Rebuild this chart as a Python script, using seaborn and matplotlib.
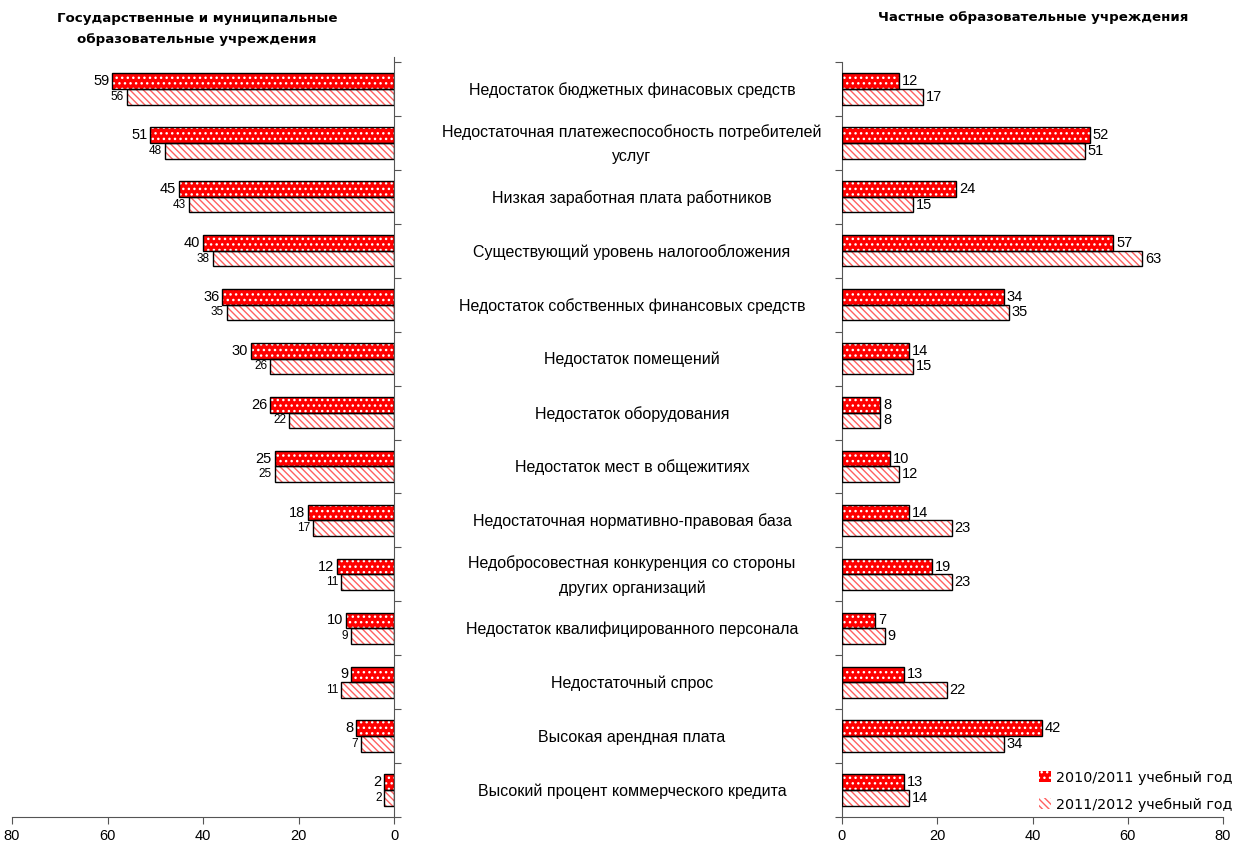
import matplotlib
matplotlib.use('Agg')
import matplotlib.pyplot as plt
import matplotlib.transforms as mtransforms
from matplotlib.patches import Rectangle
import seaborn as sns
import pandas as pd
import numpy as np

categories = [
    'Недостаток бюджетных финасовых средств',
    'Недостаточная платежеспособность потребителей\nуслуг',
    'Низкая заработная плата работников',
    'Существующий уровень налогообложения',
    'Недостаток собственных финансовых средств',
    'Недостаток помещений',
    'Недостаток оборудования',
    'Недостаток мест в общежитиях',
    'Недостаточная нормативно-правовая база',
    'Недобросовестная конкуренция со стороны\nдругих организаций',
    'Недостаток квалифицированного персонала',
    'Недостаточный спрос',
    'Высокая арендная плата',
    'Высокий процент коммерческого кредита',
]
years = ['2010/2011 учебный год', '2011/2012 учебный год']
state_2010 = [59, 51, 45, 40, 36, 30, 26, 25, 18, 12, 10, 9, 8, 2]
state_2011 = [56, 48, 43, 38, 35, 26, 22, 25, 17, 11, 9, 11, 7, 2]
private_2010 = [12, 52, 24, 57, 34, 14, 8, 10, 14, 19, 7, 13, 42, 13]
private_2011 = [17, 51, 15, 63, 35, 15, 8, 12, 23, 23, 9, 22, 34, 14]

def make_df(v1, v2):
    return pd.DataFrame({
        'cat': categories * 2,
        'year': [years[0]] * len(categories) + [years[1]] * len(categories),
        'value': v1 + v2,
    })

df_state = make_df(state_2010, state_2011)
df_private = make_df(private_2010, private_2011)

sns.set_style('white')
plt.rcParams['font.family'] = ['Liberation Sans', 'DejaVu Sans']
plt.rcParams['hatch.linewidth'] = 1.0
plt.rcParams['text.color'] = 'black'
plt.rcParams['xtick.color'] = 'black'
plt.rcParams['ytick.color'] = 'black'

fig = plt.figure(figsize=(12.47, 8.52), dpi=100)
ax_l = fig.add_axes([12 / 1247, 1 - 817 / 852, 382 / 1247, 755 / 852])
ax_r = fig.add_axes([842 / 1247, 1 - 817 / 852, 381 / 1247, 755 / 852])

styles = [('red', 'white', '...'), ('white', '#ff6060', '\\\\\\\\\\')]

def draw(ax, df):
    sns.barplot(data=df, y='cat', x='value', hue='year', orient='h', ax=ax,
                width=0.58, legend=False, dodge=True)
    for container, (face, hatchc, hatch) in zip(ax.containers, styles):
        for p in container:
            p.set_facecolor(face)
            p.set_edgecolor(hatchc)
            p.set_hatch(hatch)
            p.set_linewidth(0)
            ax.add_patch(Rectangle(p.get_xy(), p.get_width(), p.get_height(),
                                   fill=False, edgecolor='black', linewidth=1, zorder=3))
    ax.set_xlim(0, 80)
    ax.set_ylim(13.5, -0.5)
    ax.set_xticks([0, 20, 40, 60, 80])
    ax.set_yticks(np.arange(-0.5, 14, 1))
    ax.set_yticklabels([])
    ax.set_xlabel('')
    ax.set_ylabel('')
    for s in ['top', 'left', 'right', 'bottom']:
        ax.spines[s].set_visible(False)
    ax.spines['bottom'].set_visible(True)
    ax.spines['bottom'].set_color('#555555')
    ax.tick_params(axis='x', bottom=True, length=5, color='#555555', labelsize=10.5, pad=4)
    ax.tick_params(axis='y', length=5, color='#555555')

draw(ax_l, df_state)
draw(ax_r, df_private)

# left: reversed axis, spine on right
ax_l.invert_xaxis()
ax_l.spines['right'].set_visible(True)
ax_l.spines['right'].set_color('#555555')
ax_l.spines['right'].set_bounds(13.5, -0.6)
ax_l.yaxis.tick_right()
ax_l.tick_params(axis='y', right=True, left=False, length=5)

ax_r.spines['left'].set_visible(True)
ax_r.spines['left'].set_color('#555555')
ax_r.tick_params(axis='y', left=True, length=5)

# value labels
for c, size in zip(ax_l.containers, [10.5, 8.5]):
    ax_l.bar_label(c, padding=2, fontsize=size, color='black')
for c in ax_r.containers:
    ax_r.bar_label(c, padding=2, fontsize=10.5, color='black')

# category labels in the middle
trans = mtransforms.blended_transform_factory(fig.transFigure, ax_r.transData)
for i, cat in enumerate(categories):
    ax_r.text(632 / 1247, i + 0.02, cat, transform=trans, ha='center', va='center',
              fontsize=11.5, linespacing=1.75, clip_on=False, color='black')

# titles
fig.text(197 / 1247, 1 - 29 / 852, 'Государственные и муниципальные\nобразовательные учреждения',
         ha='center', va='center', fontsize=9.6, fontweight='bold', linespacing=1.85,
         family=['DejaVu Sans'])
fig.text(1033 / 1247, 1 - 17 / 852, 'Частные образовательные учреждения',
         ha='center', va='center', fontsize=9.6, fontweight='bold', family=['DejaVu Sans'])

# legend
handles = [Rectangle((0, 0), 1, 1, facecolor='red', edgecolor='white', hatch='...', linewidth=0),
           Rectangle((0, 0), 1, 1, facecolor='white', edgecolor='#ff6060', hatch='\\\\\\\\\\', linewidth=0)]
leg = ax_r.legend(handles, years, loc='lower right', bbox_to_anchor=(1.06, -0.01), frameon=False,
                  handlelength=0.8, handleheight=0.8, handletextpad=0.4, labelspacing=0.9,
                  prop={'family': 'DejaVu Sans', 'size': 10.3})

fig.savefig('out.png', dpi=100)
